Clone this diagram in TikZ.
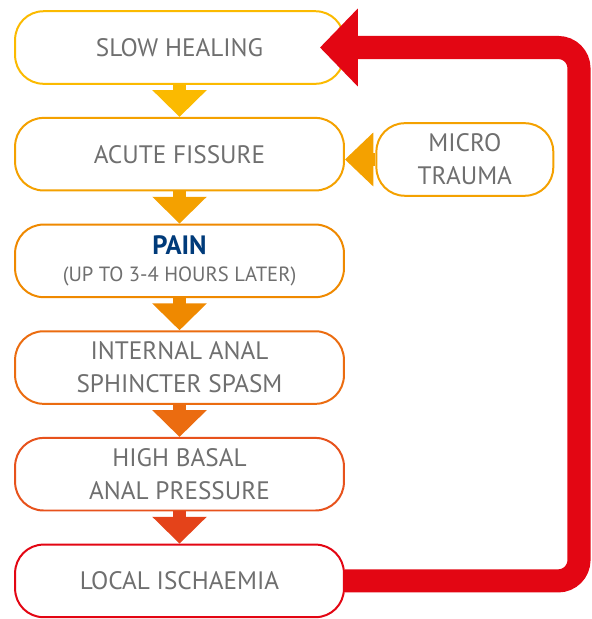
\documentclass[tikz,border=0pt]{standalone}
\usepackage{fontspec}
\setmainfont{PT Sans}
\usetikzlibrary{
  positioning,
  arrows.meta
}
\definecolor{ambA}{HTML}{FBBA00}
\definecolor{ambB}{HTML}{F4A100}
\definecolor{ambC}{HTML}{EF8900}
\definecolor{ambD}{HTML}{EB6C10}
\definecolor{ambE}{HTML}{E7521C}
\definecolor{ambF}{HTML}{E4431A}
\definecolor{loopred}{HTML}{E30613}
\definecolor{painblue}{HTML}{003B7A}
\definecolor{txtgray}{HTML}{6F6F6F}

\begin{document}
\begin{tikzpicture}[
  node distance=0.85cm,
  stage/.style={
    draw,
    line width=1.5pt,
    rounded corners=0.75cm,
    minimum width=8.7cm,
    minimum height=1.92cm,
    align=center,
    font=\fontsize{19}{25}\selectfont,
    text=txtgray,
    fill=white
  },
  downarrow/.style={line width=0.34cm, -{Triangle[width=1.4cm, length=0.71cm]}},
  sidearrow/.style={line width=0.32cm, -{Triangle[width=1.38cm, length=0.75cm]}},
  feedback/.style={draw=loopred, line width=0.61cm, rounded corners=0.55cm,
    -{Triangle[width=2cm, length=1cm]}}
]

% Frame
\useasboundingbox (0,0) rectangle (15.664,-16.379);

% ==================== MAIN CHAIN ====================
\node[stage, draw=ambA] (healing) at (4.75,-1.257) {SLOW HEALING};

\node[stage, draw=ambB, below=of healing] (fissure) {ACUTE FISSURE};

\node[stage, draw=ambC, below=of fissure] (pain) {
  {\fontsize{20}{24}\selectfont\bfseries\color{painblue}PAIN} \\[-5pt]
  {\fontsize{15.5}{20}\selectfont (UP TO 3-4 HOURS LATER)}
};

\node[stage, draw=ambD, below=of pain] (spasm) {
  INTERNAL ANAL \\
  SPHINCTER SPASM
};

\node[stage, draw=ambE, below=of spasm] (pressure) {
  HIGH BASAL \\
  ANAL PRESSURE
};

\node[stage, draw=loopred, below=of pressure] (ischaemia) {LOCAL ISCHAEMIA};

% Side cause
\node[stage, draw=ambB, minimum width=4.68cm] (micro) at (12.30,-4.22) {
  MICRO \\
  TRAUMA
};

% Down arrows
\draw[downarrow, ambA] (healing) -- (fissure);
\draw[downarrow, ambB] (fissure) -- (pain);
\draw[downarrow, ambC] (pain) -- (spasm);
\draw[downarrow, ambD] (spasm) -- (pressure);
\draw[downarrow, ambF] (pressure) -- (ischaemia);

% Micro trauma into fissure
\draw[sidearrow, ambB] (micro.west) -- (micro.west -| fissure.east);

% ==================== FEEDBACK LOOP ====================
\coordinate (rail) at (15.32,0);
\coordinate (tip) at ([xshift=-0.66cm]healing.east);
\draw[feedback] (ischaemia.east) -- (ischaemia.east -| rail) -- (healing.east -| rail) -- (tip);

\end{tikzpicture}
\end{document}
